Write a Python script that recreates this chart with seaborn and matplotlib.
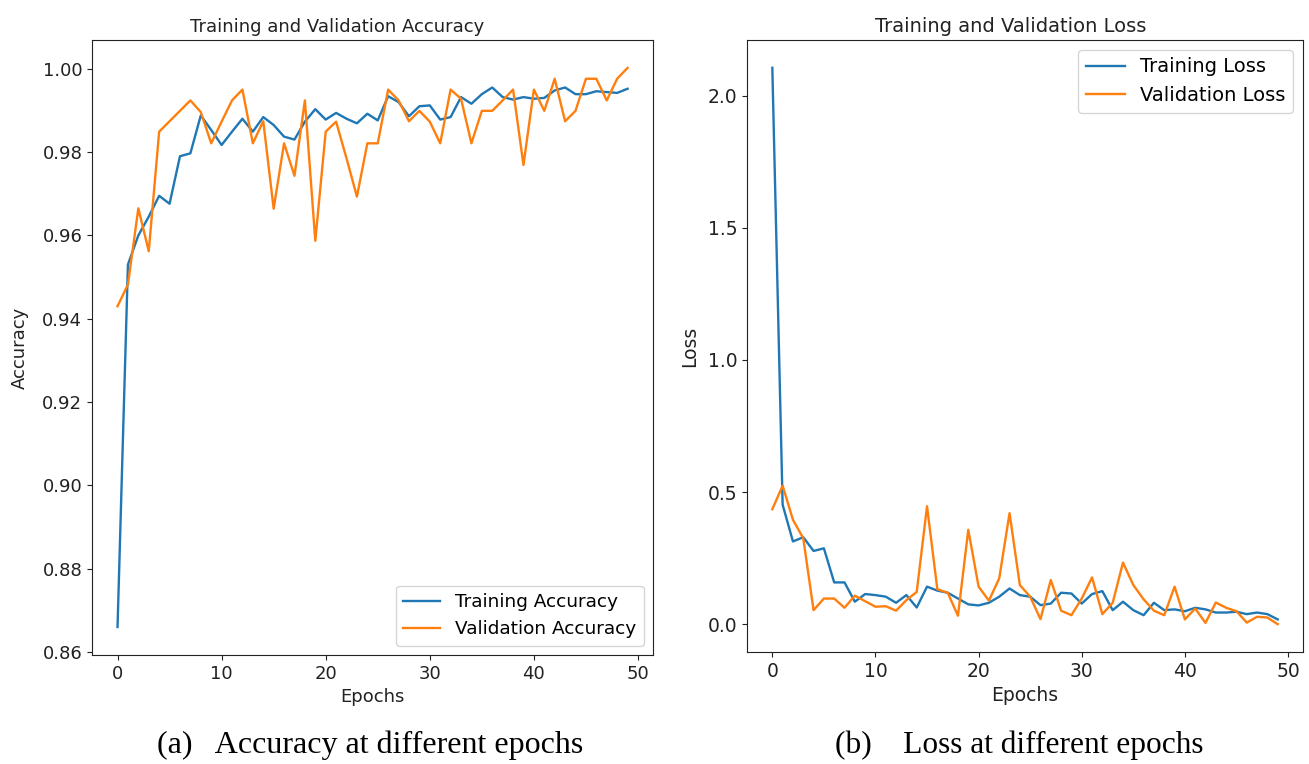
import numpy as np
import pandas as pd
import matplotlib
matplotlib.use("Agg")
import matplotlib.pyplot as plt
import seaborn as sns

epochs = list(range(50))

train_acc = [0.866, 0.953, 0.960, 0.9645, 0.9695, 0.9676, 0.979, 0.9797, 0.9888, 0.9853,
             0.9817, 0.9849, 0.988, 0.9849, 0.9884, 0.9865, 0.9837, 0.983, 0.9873, 0.9903,
             0.9878, 0.9894, 0.988, 0.9869, 0.9892, 0.9876, 0.9934, 0.992, 0.9886, 0.991,
             0.9912, 0.9878, 0.9884, 0.9932, 0.9916, 0.9939, 0.9955, 0.9932, 0.9926, 0.9932,
             0.9928, 0.993, 0.9948, 0.9955, 0.9939, 0.9939, 0.9946, 0.9944, 0.9942, 0.9952]

val_acc = [0.943, 0.9482, 0.9665, 0.9562, 0.9849, 0.9874, 0.9899, 0.9924, 0.9896, 0.9821,
           0.9873, 0.9924, 0.995, 0.9821, 0.9874, 0.9664, 0.9821, 0.9743, 0.9924, 0.9587,
           0.9849, 0.9873, 0.9785, 0.9693, 0.9821, 0.9821, 0.995, 0.9924, 0.9874, 0.9899,
           0.9873, 0.9821, 0.995, 0.9928, 0.9821, 0.9899, 0.9899, 0.9924, 0.995, 0.9769,
           0.995, 0.9899, 0.9976, 0.9874, 0.9899, 0.9976, 0.9976, 0.9924, 0.9976, 1.0002]

train_loss = [2.105, 0.452, 0.313, 0.329, 0.277, 0.287, 0.158, 0.158, 0.085, 0.114,
              0.110, 0.104, 0.081, 0.110, 0.063, 0.142, 0.127, 0.119, 0.097, 0.075,
              0.071, 0.081, 0.104, 0.135, 0.110, 0.104, 0.072, 0.078, 0.119, 0.116,
              0.078, 0.114, 0.125, 0.053, 0.085, 0.053, 0.034, 0.081, 0.053, 0.056,
              0.049, 0.062, 0.056, 0.044, 0.044, 0.047, 0.038, 0.044, 0.038, 0.018]

val_loss = [0.435, 0.524, 0.395, 0.325, 0.053, 0.097, 0.097, 0.062, 0.108, 0.087,
            0.066, 0.068, 0.051, 0.091, 0.122, 0.446, 0.132, 0.119, 0.032, 0.357,
            0.142, 0.089, 0.173, 0.420, 0.148, 0.104, 0.019, 0.167, 0.051, 0.034,
            0.097, 0.177, 0.038, 0.081, 0.233, 0.148, 0.094, 0.051, 0.034, 0.142,
            0.018, 0.059, 0.005, 0.082, 0.062, 0.049, 0.006, 0.028, 0.025, 0.000]

acc_labels = ["Training Accuracy", "Validation Accuracy"]
loss_labels = ["Training Loss", "Validation Loss"]
titles = ["Training and Validation Accuracy", "Training and Validation Loss"]
captions = ["(a)   Accuracy at different epochs", "(b)    Loss at different epochs"]

blue = "#1f77b4"
orange = "#ff7f0e"
ink = "#222222"

fig = plt.figure(figsize=(13.09, 7.64), dpi=100)
ax1 = fig.add_axes([0.0703, 0.1427, 0.4286, 0.8050])
ax2 = fig.add_axes([0.5707, 0.1466, 0.4247, 0.8011])

sns.lineplot(x=epochs, y=train_acc, ax=ax1, color=blue, label=acc_labels[0], linewidth=1.7)
sns.lineplot(x=epochs, y=val_acc, ax=ax1, color=orange, label=acc_labels[1], linewidth=1.7)
sns.lineplot(x=epochs, y=train_loss, ax=ax2, color=blue, label=loss_labels[0], linewidth=1.7)
sns.lineplot(x=epochs, y=val_loss, ax=ax2, color=orange, label=loss_labels[1], linewidth=1.7)

ax1.set_yticks([0.86, 0.88, 0.90, 0.92, 0.94, 0.96, 0.98, 1.00])
ax1.set_xticks([0, 10, 20, 30, 40, 50])
ax2.set_yticks([0.0, 0.5, 1.0, 1.5, 2.0])
ax2.set_xticks([0, 10, 20, 30, 40, 50])

ax1.set_title(titles[0], fontsize=13, color=ink, x=0.437)
ax2.set_title(titles[1], fontsize=14, color=ink, x=0.475)

for ax, yl, fs, lp in [(ax1, "Accuracy", 13, 10), (ax2, "Loss", 13.5, 6)]:
    ax.set_xlabel("Epochs", fontsize=fs, color=ink)
    ax.set_ylabel(yl, fontsize=fs, color=ink, labelpad=lp)
    ax.tick_params(labelsize=fs, colors=ink)
    for s in ax.spines.values():
        s.set_color(ink)

ax1.legend(loc="lower right", fontsize=13.3)
ax2.legend(loc="upper right", fontsize=14.0)

fig.text(0.283, 0.024, captions[0], family="Liberation Serif", fontsize=23, ha="center", va="center")
fig.text(0.779, 0.024, captions[1], family="Liberation Serif", fontsize=22.6, ha="center", va="center")

fig.savefig("out.png", dpi=100)
